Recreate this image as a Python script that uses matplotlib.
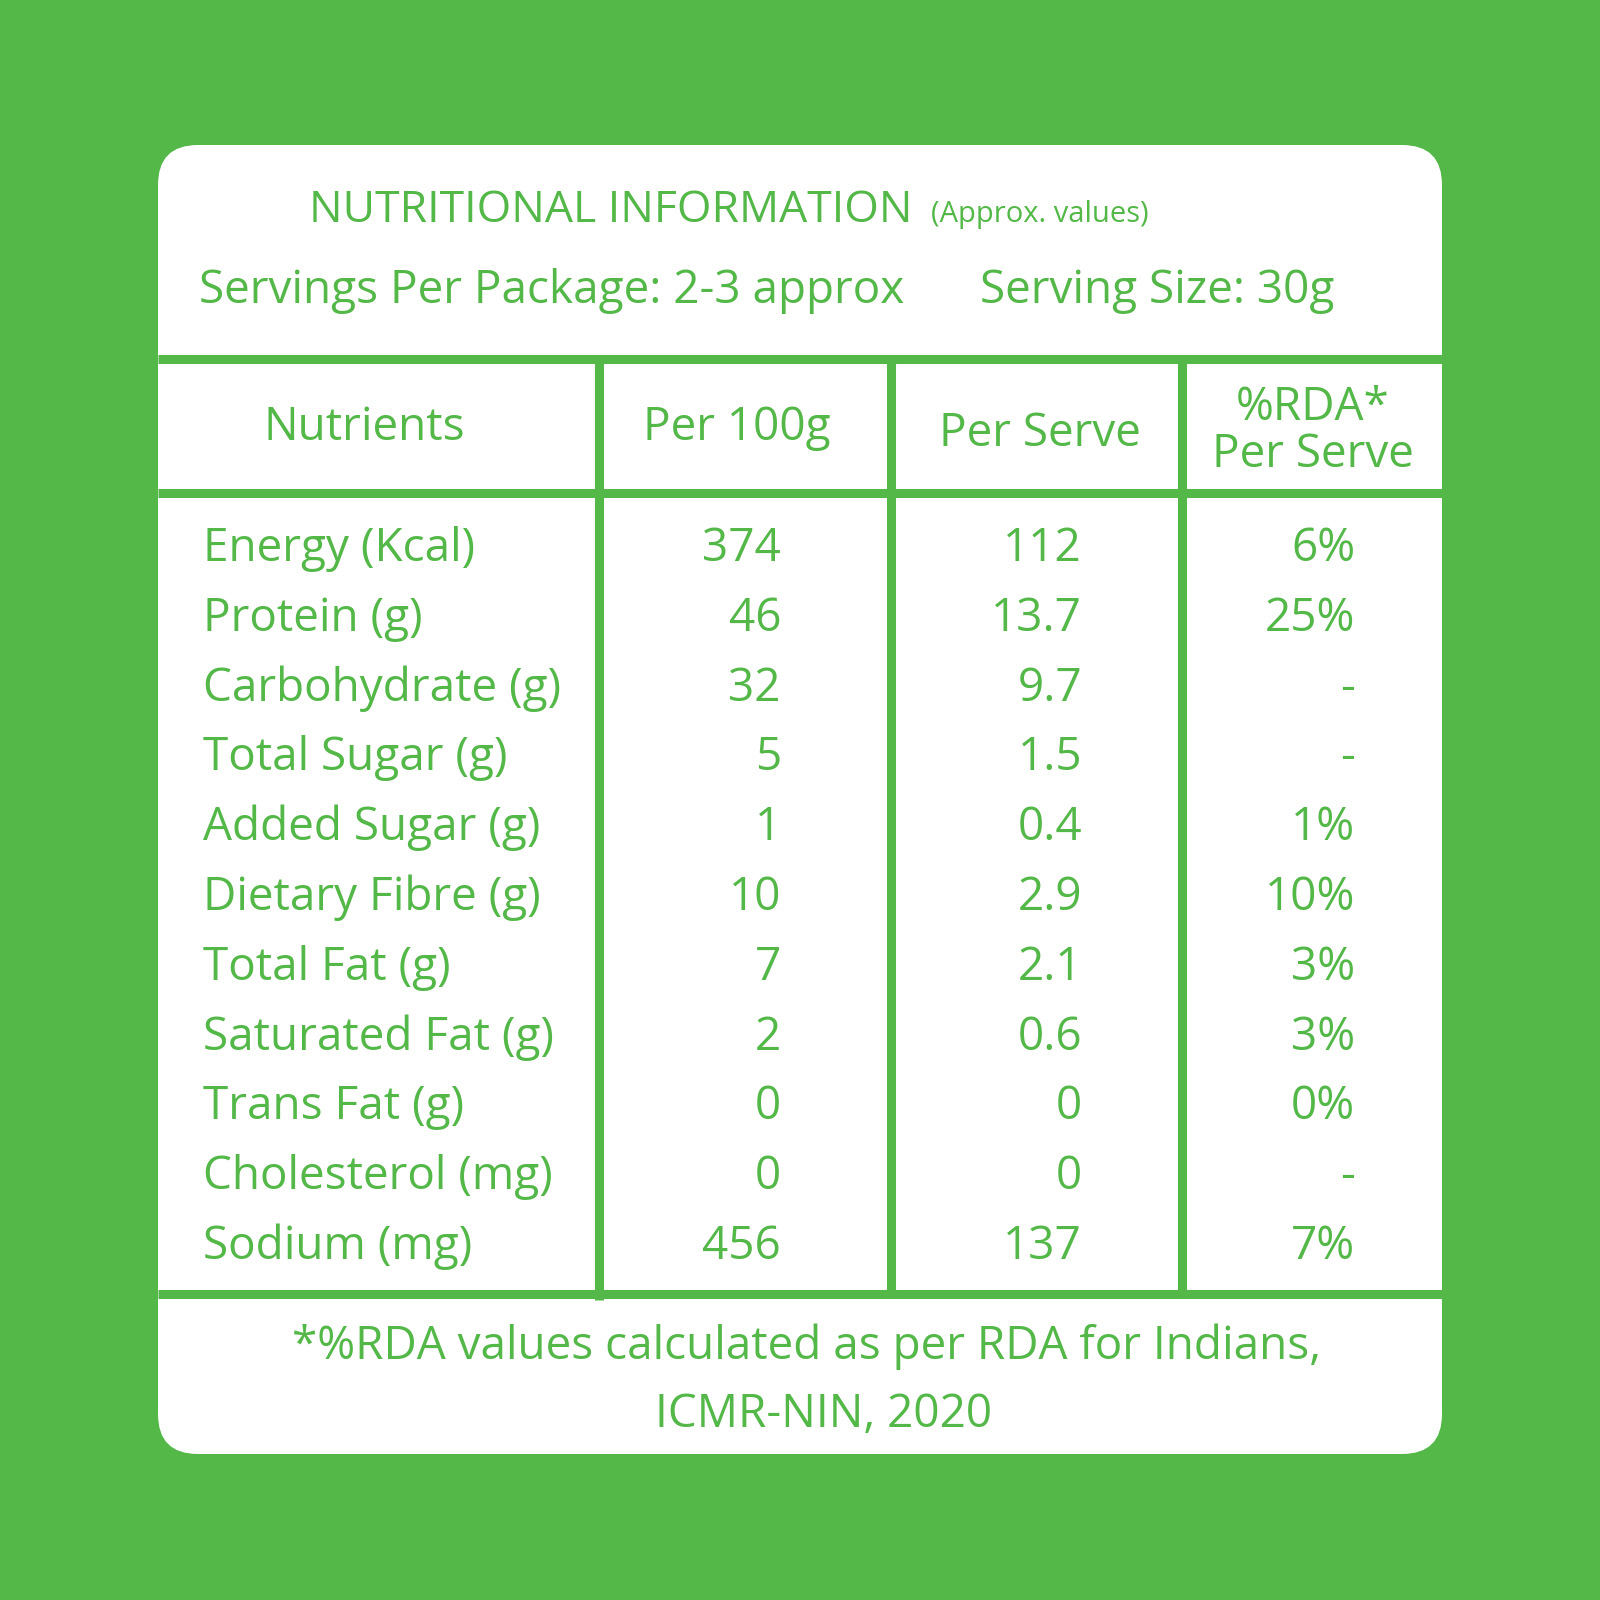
import matplotlib.pyplot as plt
from matplotlib.patches import FancyBboxPatch

GREEN = '#53b848'

title = 'NUTRITIONAL INFORMATION'
title_note = '(Approx. values)'
servings = 'Servings Per Package: 2-3 approx'
serving_size = 'Serving Size: 30g'
headers = ['Nutrients', 'Per 100g', 'Per Serve']
rda_header = ['%RDA*', 'Per Serve']
nutrients = ['Energy (Kcal)', 'Protein (g)', 'Carbohydrate (g)', 'Total Sugar (g)',
             'Added Sugar (g)', 'Dietary Fibre (g)', 'Total Fat (g)',
             'Saturated Fat (g)', 'Trans Fat (g)', 'Cholesterol (mg)', 'Sodium (mg)']
per_100g = ['374', '46', '32', '5', '1', '10', '7', '2', '0', '0', '456']
per_serve = ['112', '13.7', '9.7', '1.5', '0.4', '2.9', '2.1', '0.6', '0', '0', '137']
rda = ['6%', '25%', '-', '-', '1%', '10%', '3%', '3%', '0%', '-', '7%']
footnote = ['*%RDA values calculated as per RDA for Indians,', 'ICMR-NIN, 2020']

fig = plt.figure(figsize=(16, 16), dpi=100)
fig.patch.set_facecolor(GREEN)
ax = fig.add_axes([0, 0, 1, 1])
ax.set_xlim(0, 1600)
ax.set_ylim(1600, 0)
ax.axis('off')

# white card with rounded corners
card = FancyBboxPatch((158, 145), 1284, 1309, boxstyle='round,pad=0,rounding_size=40',
                      facecolor='white', edgecolor='none')
ax.add_patch(card)

lw = 6.5
# horizontal rules
for y in [359, 493, 1294]:
    ax.plot([158, 1442], [y, y], color=GREEN, lw=lw, solid_capstyle='butt')
# column rules
ax.plot([599, 599], [359, 1300], color=GREEN, lw=lw, solid_capstyle='butt')
for x in [891, 1182]:
    ax.plot([x, x], [359, 1294], color=GREEN, lw=lw, solid_capstyle='butt')

fam = ['Open Sans', 'DejaVu Sans']
body = dict(color=GREEN, family=fam, fontsize=33)
dy = 5  # small nudge so text centres sit like the reference

# title block
ax.text(309, 222, title, color=GREEN, family=fam, fontsize=32,
        ha='left', va='baseline')
ax.text(931, 222, title_note, color=GREEN, family=fam, fontsize=21,
        ha='left', va='baseline')
ax.text(199, 286 + dy, servings, ha='left', va='center', **body)
ax.text(980, 286 + dy, serving_size, ha='left', va='center', **body)

# headers
header_x = [364, 737, 1040]
header_y = [423, 423, 429]
for hx, hy, h in zip(header_x, header_y, headers):
    ax.text(hx, hy + dy, h, ha='center', va='center', **body)
ax.text(1313, 403 + dy, rda_header[0], ha='center', va='center', **body)
ax.text(1313, 450 + dy, rda_header[1], ha='center', va='center', **body)

# rows
row_y0 = 544 + dy
row_step = 69.8
for i, (n, a, b, c) in enumerate(zip(nutrients, per_100g, per_serve, rda)):
    y = row_y0 + i * row_step
    ax.text(203, y, n, ha='left', va='center', **body)
    ax.text(781, y, a, ha='right', va='center', **body)
    ax.text(1082, y, b, ha='right', va='center', **body)
    ax.text(1355, y, c, ha='right', va='center', **body)

# footnote
ax.text(807, 1342 + dy, footnote[0], ha='center', va='center', **body)
ax.text(824, 1410 + dy, footnote[1], ha='center', va='center', **body)

fig.savefig('out.png', dpi=100, facecolor=GREEN)
